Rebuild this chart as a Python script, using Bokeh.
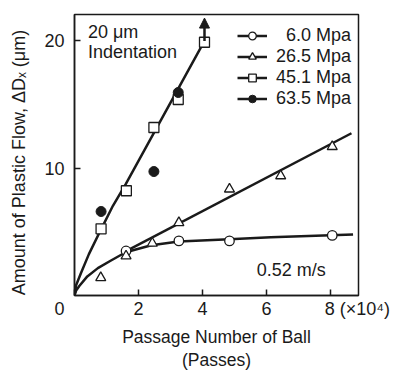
from bokeh.plotting import figure
from bokeh.models import (Range1d, FixedTicker, Label, Legend, LegendItem,
                          Arrow, NormalHead)
from bokeh.embed import file_html
from bokeh.resources import INLINE

FONT = "Liberation Sans"
INK = "#1a1a1a"

# --- data (x in units of 10^4 passes, y in um) ---
x_6_0 = [1.61, 3.26, 4.84, 8.05]
y_6_0 = [3.50, 4.29, 4.29, 4.72]

x_26_5 = [0.82, 1.61, 2.43, 3.26, 4.84, 6.44, 8.05]
y_26_5 = [1.40, 3.10, 4.10, 5.72, 8.36, 9.40, 11.70]

x_45_1 = [0.83, 1.62, 2.48, 3.24, 4.06]
y_45_1 = [5.24, 8.23, 13.2, 15.4, 19.9]

x_63_5 = [0.83, 2.48, 3.24]
y_63_5 = [6.60, 9.74, 15.95]

# fitted curves
fit_low_x = [0, 0.05, 0.15, 0.40, 0.73, 1.14, 1.60, 2.40, 3.26, 4.84, 6.13, 8.70]
fit_low_y = [0, 0.38, 0.75, 1.50, 2.15, 2.75, 3.40, 3.95, 4.25, 4.42, 4.58, 4.80]

fit_mid_x = [1.55, 8.65]
fit_mid_y = [3.40, 12.75]

fit_high_x = [0, 0.05, 0.20, 0.45, 0.83, 1.20, 1.60, 4.06]
fit_high_y = [0, 0.80, 1.75, 3.25, 5.20, 7.05, 8.75, 20.0]
arrow_x = 4.06
arrow_y = [20.0, 21.8]

x_ticks = [0, 2, 4, 6, 8]
x_tick_labels = {0: "0\u2007\u2007\u2007", 8: "\u2007\u2007\u2007\u2007\u2007\u20098 (\u00d710\u2074)"}
y_ticks = [10, 20]

p = figure(width=393, height=372, output_backend="svg", toolbar_location=None,
           x_range=Range1d(0, 8.87), y_range=Range1d(0, 22.08),
           min_border_left=74, min_border_right=35, min_border_top=14,
           min_border_bottom=75)
p.grid.visible = False
p.outline_line_color = INK
p.outline_line_width = 1.5
p.background_fill_color = "white"

for ax in (p.xaxis[0], p.yaxis[0]):
    ax.axis_line_color = INK
    ax.axis_line_width = 1.5
    ax.major_tick_in = 6
    ax.major_tick_out = 0
    ax.major_tick_line_color = INK
    ax.major_tick_line_width = 1.5
    ax.minor_tick_line_color = None
    ax.major_label_text_font = FONT
    ax.major_label_text_font_size = "18px"
    ax.major_label_text_color = INK
    ax.axis_label_text_font = FONT
    ax.axis_label_text_font_size = "18px"
    ax.axis_label_text_font_style = "normal"
    ax.axis_label_text_color = INK

p.xaxis.ticker = FixedTicker(ticks=x_ticks)
p.xaxis.major_label_overrides = x_tick_labels
p.yaxis.ticker = FixedTicker(ticks=y_ticks)
p.xaxis.major_label_standoff = 3
p.yaxis.major_label_standoff = 10
p.xaxis.axis_label = "Passage Number of Ball\n(Passes)"
p.xaxis.axis_label_text_font_size = "17.5px"
p.xaxis.axis_label_text_line_height = 1.15
p.yaxis.axis_label = "Amount of Plastic Flow,  \u0394D\u2093 (\u03bcm)\u2007"
p.xaxis.axis_label_standoff = 5
p.yaxis.axis_label_standoff = 12

# fit lines
l_low = p.line(fit_low_x, fit_low_y, line_width=2.5, color=INK)
l_mid = p.line(fit_mid_x, fit_mid_y, line_width=2.5, color=INK)
l_high = p.line(fit_high_x, fit_high_y, line_width=2.5, color=INK)
p.add_layout(Arrow(end=NormalHead(size=10, fill_color=INK, line_color=INK),
                   x_start=arrow_x, y_start=arrow_y[0], x_end=arrow_x, y_end=arrow_y[1],
                   line_width=2.5, line_color=INK))

# markers
r1 = p.scatter(x_6_0, y_6_0, marker="circle", size=9.5, fill_color="white", line_color=INK, line_width=1.3)
r2 = p.scatter(x_26_5, y_26_5, marker="triangle", size=10, fill_color="white", line_color=INK, line_width=1.3)
r3 = p.scatter(x_45_1, y_45_1, marker="square", size=10, fill_color="white", line_color=INK, line_width=1.3)
r4 = p.scatter(x_63_5, y_63_5, marker="circle", size=10, fill_color=INK, line_color=INK, line_width=1.0)

labels = ["\u20076.0 Mpa", "26.5 Mpa", "45.1 Mpa", "63.5 Mpa"]
line_for = [l_low, l_mid, l_high, l_high]
items = [LegendItem(label=l, renderers=[ln, r]) for l, ln, r in zip(labels, line_for, [r1, r2, r3, r4])]
legend = Legend(items=items, location=(163, 186), border_line_color=None,
                background_fill_alpha=0, label_text_font=FONT, label_text_font_size="18px",
                label_text_line_height=1.0,
                label_text_color=INK, glyph_width=30, glyph_height=19, label_height=19,
                spacing=0, padding=0, margin=0, label_standoff=9)
p.add_layout(legend)

# annotations inside the frame
def lab(x, y, t, align="left"):
    p.add_layout(Label(x=x, y=y, text=t, text_font=FONT, text_font_size="18px",
                       text_color=INK, text_align=align, text_baseline="middle",
                       level="overlay"))

lab(0.42, 20.7, "20 \u03bcm")
lab(0.42, 19.15, "Indentation")
lab(5.69, 2.0, "0.52 m/s")

open("out.html", "w").write(file_html(p, INLINE))
